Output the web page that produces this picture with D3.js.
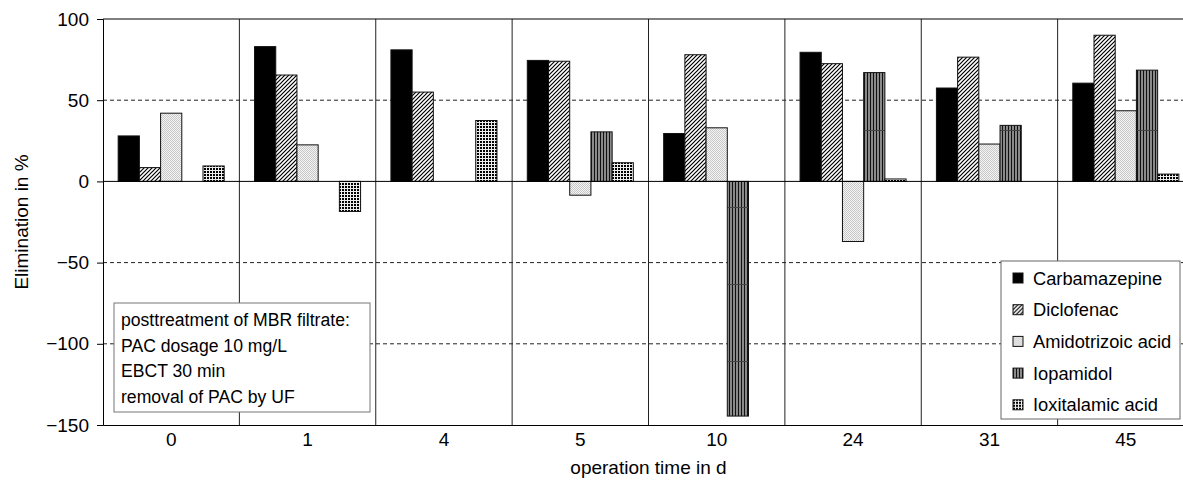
<!DOCTYPE html>
<html>
<head>
<meta charset="utf-8">
<script src="https://cdn.jsdelivr.net/npm/d3@7"></script>
<style>
  body { margin: 0; background: #fff; }
  svg { display: block; font-family: "Liberation Sans", Arial, sans-serif; }
</style>
</head>
<body>
<div id="chart"></div>
<script>
// operation time in days
var days = ['0', '1', '4', '5', '10', '24', '31', '45']
var compounds = ['Carbamazepine', 'Diclofenac', 'Amidotrizoic acid', 'Iopamidol', 'Ioxitalamic acid']

// elimination in %, null = no bar
var carbamazepine = [28, 83, 81, 74.5, 29.5, 79.5, 57.5, 60.5]
var diclofenac    = [8.5, 65.5, 55, 74, 78, 72.5, 76.5, 90]
var amidotrizoic  = [42, 22.5, null, -8.5, 33, -37, 23, 43.5]
var iopamidol     = [null, null, null, 30.5, -144.5, 67, 34.5, 68.5]
var ioxitalamic   = [9.5, -18.5, 37.5, 11.5, null, 1.5, null, 4.5]

var yTicks = [100, 50, 0, -50, -100, -150]
var dashed = [50, -50, -100]
var note = ['posttreatment of MBR filtrate:', 'PAC dosage 10 mg/L', 'EBCT 30 min', 'removal of PAC by UF']

var series = [carbamazepine, diclofenac, amidotrizoic, iopamidol, ioxitalamic]
var fills = ['#000', 'url(#p-hatch)', 'url(#p-dots)', 'url(#p-vert)', 'url(#p-grid)']

var rows = []
days.forEach(function(d, i){
  compounds.forEach(function(c, j){
    if (series[j][i] != null) rows.push({day: d, comp: c, j: j, v: series[j][i]})
  })
})

var W = 1183, H = 480
var m = {left: 103, top: 19, right: -11, bottom: 55}
var fsAxis = 19, fsBox = 18.3, fsNote = 17.6

var svg = d3.select('#chart').append('svg').attr('width', W).attr('height', H)

// fill patterns
var defs = svg.append('defs')
var ph = defs.append('pattern').attr('id', 'p-hatch').attr('patternUnits', 'userSpaceOnUse')
  .attr('width', 4).attr('height', 4)
ph.append('rect').attr('width', 4).attr('height', 4).attr('fill', '#fff')
ph.append('path').attr('d', 'M-1,1 l2,-2 M0,4 l4,-4 M3,5 l2,-2')
  .attr('stroke', '#000').attr('stroke-width', 1.2)

var pd = defs.append('pattern').attr('id', 'p-dots').attr('patternUnits', 'userSpaceOnUse')
  .attr('width', 2).attr('height', 2)
pd.append('rect').attr('width', 2).attr('height', 2).attr('fill', '#f4f4f4')
pd.append('rect').attr('width', 1).attr('height', 1).attr('fill', '#c8c8c8')
pd.append('rect').attr('x', 1).attr('y', 1).attr('width', 1).attr('height', 1).attr('fill', '#c8c8c8')

var pv = defs.append('pattern').attr('id', 'p-vert').attr('patternUnits', 'userSpaceOnUse')
  .attr('width', 3).attr('height', 77)
pv.append('rect').attr('width', 3).attr('height', 77).attr('fill', '#8a8a8a')
pv.append('rect').attr('width', 1).attr('height', 77).attr('fill', '#111')
pv.append('rect').attr('y', 53).attr('width', 3).attr('height', 1).attr('fill', '#444')

var pg = defs.append('pattern').attr('id', 'p-grid').attr('patternUnits', 'userSpaceOnUse')
  .attr('width', 3).attr('height', 3)
pg.append('rect').attr('width', 3).attr('height', 3).attr('fill', '#000')
pg.append('rect').attr('x', 2).attr('width', 1).attr('height', 3).attr('fill', '#eee')
pg.append('rect').attr('y', 2).attr('width', 3).attr('height', 1).attr('fill', '#eee')

var x = d3.scaleBand().domain(days).range([m.left, W - m.right])
var xi = d3.scaleBand().domain(d3.range(compounds.length)).range([0, x.bandwidth()]).paddingOuter(0.715)
var y = d3.scaleLinear().domain([-150, 100]).range([H - m.bottom, m.top])

var g = svg.append('g')

// dashed reference lines
g.selectAll('line.dash').data(dashed).join('line')
  .attr('x1', m.left).attr('x2', W - m.right)
  .attr('y1', d => y(d)).attr('y2', d => y(d))
  .attr('stroke', '#222').attr('stroke-dasharray', '4,3')

// category separators
g.selectAll('line.sep').data(days.slice(1)).join('line')
  .attr('x1', d => x(d)).attr('x2', d => x(d))
  .attr('y1', y(100)).attr('y2', y(-150))
  .attr('stroke', '#222')

// bars
g.selectAll('rect.bar').data(rows).join('rect')
  .attr('x', d => x(d.day) + xi(d.j))
  .attr('width', xi.bandwidth())
  .attr('y', d => y(Math.max(0, d.v)))
  .attr('height', d => Math.abs(y(d.v) - y(0)))
  .attr('fill', d => fills[d.j])
  .attr('stroke', '#111').attr('stroke-width', 1)

// zero line and frame top
;[0, 100].forEach(function(v){
  g.append('line').attr('x1', m.left).attr('x2', W - m.right)
    .attr('y1', y(v)).attr('y2', y(v)).attr('stroke', '#000')
})

// y axis
var yAx = svg.append('g').attr('transform', 'translate(' + m.left + ',0)')
  .call(d3.axisLeft(y).tickValues(yTicks).tickSize(6).tickPadding(8))
yAx.select('.domain').attr('stroke', '#000')
yAx.selectAll('text').attr('font-size', fsAxis).attr('fill', '#000').attr('font-family', null)

// x axis
var xAx = svg.append('g').attr('transform', 'translate(0,' + y(-150) + ')')
  .call(d3.axisBottom(x).tickSize(0).tickPadding(8))
xAx.select('.domain').attr('stroke', '#000')
xAx.selectAll('text').attr('font-size', fsAxis).attr('fill', '#000').attr('font-family', null)

svg.append('text').attr('x', (m.left + W - m.right) / 2).attr('y', 474)
  .attr('text-anchor', 'middle').attr('font-size', fsAxis).text('operation time in d')

svg.append('text').attr('transform', 'translate(28,' + y(-25) + ') rotate(-90)')
  .attr('text-anchor', 'middle').attr('font-size', fsAxis).text('Elimination in %')

// note box
var nb = svg.append('g').attr('transform', 'translate(114,303)')
nb.append('rect').attr('width', 256).attr('height', 109).attr('fill', '#fff').attr('stroke', '#777')
nb.selectAll('text').data(note).join('text')
  .attr('x', 7).attr('y', (d, i) => 23 + i * 25.6)
  .attr('font-size', fsNote).text(d => d)

// legend
var lg = svg.append('g').attr('transform', 'translate(1001,261)')
lg.append('rect').attr('width', 179).attr('height', 158).attr('fill', '#fff').attr('stroke', '#666')
var li = lg.selectAll('g').data(compounds).join('g')
  .attr('transform', (d, i) => 'translate(12,' + (17 + i * 31.7) + ')')
li.append('rect').attr('y', -5).attr('width', 10).attr('height', 10)
  .attr('fill', (d, i) => fills[i]).attr('stroke', '#111')
li.append('text').attr('x', 20).attr('y', 6.5).attr('font-size', fsBox).text(d => d)
</script>
</body>
</html>
